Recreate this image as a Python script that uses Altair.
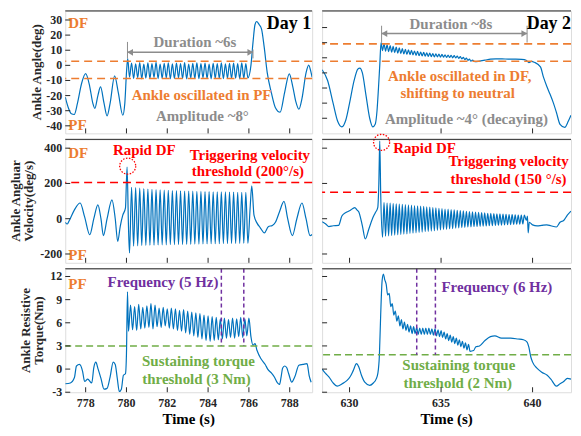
import altair as alt
import pandas as pd

FONT = "Liberation Serif"
BLUE = "#0072BD"
ORANGE = "#ED7D31"
RED = "#FF0000"
PURPLE = "#7030A0"
GREEN = "#70AD47"
GRAY = "#8C8C8C"
AXC = "#262626"

# ---------------- Day 1 : ankle angle ----------------
ang1_pre_t = [777.0, 777.15, 777.3, 777.44, 777.6, 777.8, 778.0, 778.2, 778.35, 778.45, 778.6, 778.73,
              778.9, 779.05, 779.2, 779.42, 779.6, 779.82, 779.92, 780.0, 780.06]
ang1_pre_v = [-21, -28, -32, -32.5, -25, -12, -5.5, -14, -25, -28.5, -20, -14.3,
              -25, -33.5, -25, -7, -18, -33, -25, -5, 4.5]
ang1_osc_t0, ang1_osc_dt = 780.15, 0.1
ang1_lo = [-7.8, -8.6, -8.2, -8.9, -8.4, -8.7, -8.1, -8.8, -8.5, -8.3, -8.9, -8.6, -8.2, -8.7, -8.9,
           -8.4, -8.6, -8.8, -8.3, -8.7, -8.9, -8.5, -8.6, -8.8, -8.4, -8.7, -8.5, -8.9, -8.6, -8.3]
ang1_hi = [1.5, 1.0, 1.8, 0.8, 1.6, 1.2, 1.9, 0.9, 1.4, 1.7, 1.0, 1.5, 1.2, 1.8, 0.9,
           1.3, 1.6, 1.1, 1.5, 0.8, 1.4, 1.2, 1.7, 1.0, 1.3, 1.5, 1.1, 1.6, 1.2]
ang1_post_t = [786.1, 786.2, 786.3, 786.38, 786.5, 786.62, 786.75, 786.9, 787.1, 787.3, 787.53, 787.75,
               787.98, 788.15, 788.3, 788.45, 788.6, 788.8, 788.93, 789.05, 789.1]
ang1_post_v = [0, 15, 27, 29, 27, 24, 12, -5, -18, -28, -31, -18,
               -5.6, -14, -24, -29, -22, -5, 0.2, -5, -8]

# ---------------- Day 1 : angular velocity ----------------
vel1_pre_t = [777.0, 777.1, 777.2, 777.45, 777.73, 777.95, 778.2, 778.4, 778.6, 778.75, 778.87, 779.05,
              779.29, 779.45, 779.57, 779.7, 779.82, 779.95, 780.03, 780.1, 780.15]
vel1_pre_v = [-20, -30, -10, 50, 89, 10, -91, 0, 79, 0, -96, 0,
              107, 0, -128, -40, 20, 60, 293, -50, -194]
vel1_osc_t0, vel1_osc_dt = 780.25, 0.1
vel1_hi = [178, 176, 173, 171, 168, 167, 165, 163, 162, 161, 160, 159, 158, 157, 157,
           156, 155, 155, 154, 154, 153, 153, 152, 152, 151, 151, 150, 150, 150]
vel1_lo = [-155, -154, -152, -151, -150, -150, -149, -148, -148, -147, -147, -146, -146, -145, -145,
           -144, -144, -143, -143, -142, -142, -142, -141, -141, -140, -140, -140, -139, -139]
vel1_post_t = [786.06, 786.14, 786.25, 786.4, 786.55, 786.76, 786.95, 787.15, 787.3, 787.5, 787.72, 787.9,
               788.13, 788.35, 788.6, 788.8, 789.0, 789.1]
vel1_post_v = [60, 187, 20, -25, -50, -80, -45, -38, -20, 40, 98, 0,
               -96, 0, 89, 0, -96, -90]

# ---------------- Day 1 : resistive torque ----------------
tq1_pre_t = [777.0, 777.25, 777.45, 777.55, 777.7, 777.85, 777.95, 778.1, 778.3, 778.4, 778.5, 778.6,
             778.75, 778.9, 779.05, 779.2, 779.35, 779.45, 779.55, 779.65, 779.75, 779.85, 779.95, 780.0, 780.05]
tq1_pre_v = [-1.9, -1.8, -1.1, 0.4, 0.6, -0.3, -1.6, -1.3, -1.8, 0.2, 0.9, 0.1,
             -1.2, -2.6, -2.5, -1.0, 0.9, 0.6, -1.2, -2.9, -2.6, -0.8, -0.6, 2.0, 10.0]
tq1_osc_t0, tq1_osc_dt = 780.1, 0.1
tq1_lo = [4.9, 5.1, 5.0, 5.2, 5.3, 5.4, 5.2, 5.5, 5.4, 5.6, 5.3, 5.2, 5.0, 4.9, 4.7,
          4.5, 4.3, 4.1, 3.9, 3.7, 3.6, 3.7, 3.8, 3.9, 4.0, 4.1, 4.0, 4.2, 4.1, 4.3]
tq1_hi = [8.3, 8.1, 8.4, 8.0, 8.2, 8.5, 8.3, 7.9, 8.0, 7.8, 7.9, 7.8, 7.6, 7.7, 7.5,
          7.4, 7.3, 7.2, 7.0, 6.9, 6.8, 6.7, 6.5, 6.6, 6.4, 6.6, 6.5, 6.7, 6.5, 6.6]
tq1_post_t = [786.1, 786.2, 786.3, 786.4, 786.6, 786.8, 786.92, 787.1, 787.24, 787.4, 787.5, 787.58,
              787.65, 787.75, 787.85, 787.95, 788.1, 788.25, 788.45, 788.65, 788.85, 788.95, 789.05]
tq1_post_v = [4.2, 3.1, 3.3, 2.4, 1.3, 0.6, 0.0, -0.5, -1.0, -1.8, -2.0, -1.0,
              0.1, 0.4, 0.2, -0.6, -1.7, -1.0, 0.5, 0.6, 0.7, -0.8, -1.7]

# ---------------- Day 2 : ankle angle ----------------
ang2_pre_t = [628.5, 628.8, 629.1, 629.35, 629.58, 629.8, 630.0, 630.25, 630.45, 630.56, 630.7, 630.9,
              631.1, 631.27, 631.4, 631.5, 631.58, 631.65, 631.72]
ang2_pre_v = [2.1, -5, -20, -32, -35.7, -31, -20, -5, 2.5, 3.2, 0, -15,
              -30, -35.7, -34, -25, -10, 5, 20.0]
ang2_osc_t0, ang2_osc_dt = 631.80, 1 / 12
ang2_lo = [14.8, 14.4, 14.0, 13.7, 13.4, 13.1, 12.8, 12.6, 12.3, 12.1, 11.9, 11.6, 11.4, 11.2, 11.1,
           10.9, 10.8, 10.6, 10.6, 10.4, 10.4, 10.2, 10.2, 10.0, 9.9, 9.6, 9.3, 8.8, 8.3, 7.7]
ang2_hi = [19.2, 18.6, 18.0, 17.5, 17.0, 16.5, 16.0, 15.6, 15.3, 14.9, 14.5, 14.2, 13.8, 13.6, 13.3,
           13.1, 12.8, 12.6, 12.4, 12.2, 12.0, 11.8, 11.6, 11.4, 11.1, 10.8, 10.3, 9.8, 9.1, 8.5]
ang2_post_t = [636.85, 637.1, 637.4, 637.7, 638.0, 638.5, 639.0, 639.4, 639.65, 639.8, 639.95, 640.1,
               640.43, 640.6, 640.78, 640.95, 641.14, 641.3, 641.5, 641.76, 641.95, 642.1]
ang2_post_v = [7.4, 7.8, 8.4, 9.1, 9.3, 9.2, 9.1, 8.9, 8.4, 6.8, 7.6, 7.0,
               4.0, -3, -9, -14, -20, -26, -34, -36, -32, -28]

# ---------------- Day 2 : angular velocity ----------------
vel2_pre_t = [628.5, 628.7, 628.87, 629.1, 629.4, 629.58, 629.8, 630.0, 630.29, 630.4, 630.5, 630.7,
              630.86, 631.05, 631.25, 631.4, 631.54, 631.6, 631.65, 631.7]
vel2_pre_v = [-17, -30, -45, -40, -38, 15, 35, 45, 63, 50, 40, -40,
              -115, -60, 0, 33, 63, 200, 440, 150]
vel2_osc_t0, vel2_osc_dt = 631.80, 1 / 12
vel2_lo = [-105, -99, -97, -95, -93, -91, -89, -87, -86, -84, -82, -80, -78, -76, -74, -72,
           -70, -68, -66, -64, -62, -60, -58, -56, -54, -52, -50, -49, -47, -46, -45, -44,
           -43, -42, -41, -40, -39, -38, -37, -36, -35, -34, -33, -32, -31, -31, -30]
vel2_hi = [92, 89, 88, 86, 85, 83, 82, 80, 78, 77, 75, 73, 71, 70, 67, 66,
           63, 62, 59, 58, 55, 54, 51, 50, 47, 46, 44, 42, 40, 39, 37, 36,
           34, 33, 31, 30, 29, 28, 27, 26, 25, 24, 23, 22, 21, 21, 20]
vel2_post_t = [639.66, 639.72, 639.76, 639.82, 640.0, 640.25, 640.5, 640.78, 641.0, 641.3, 641.5, 641.7,
               641.9, 642.1]
vel2_post_v = [-10, 15, -80, -20, -35, -41, -38, -35, -40, -47, -20, -10, 20, 43]

# ---------------- Day 2 : resistive torque ----------------
tq2_pre_t = [628.5, 628.7, 628.87, 629.1, 629.32, 629.6, 629.85, 630.03, 630.2, 630.38, 630.5, 630.65,
             630.83, 631.1, 631.3, 631.45, 631.55, 631.63, 631.7, 631.78, 631.85, 631.92]
tq2_pre_v = [0.0, -0.6, -1.0, -1.8, -2.2, -1.9, -1.5, -1.0, -0.2, 0.7, 0.3, -0.8,
             -1.7, -2.1, -1.8, -1.3, -0.5, 1.8, 7.0, 11.5, 12.3, 11.6]
tq2_osc_t0, tq2_osc_dt = 632.0, 1 / 12
tq2_osc = [11.0, 9.6, 9.8, 8.1, 8.5, 7.0, 7.5, 6.2, 6.9, 5.6, 6.4, 5.2, 6.1, 5.0, 5.8, 4.8, 5.6, 4.6,
           5.5, 4.6, 5.4, 4.5, 5.3, 4.5, 5.3, 4.5, 5.3, 4.5, 5.3, 4.5, 5.2, 4.4, 5.2, 4.3, 5.1, 4.2,
           5.0, 4.1, 4.8, 3.9, 4.6, 3.7, 4.4, 3.5, 4.2, 3.3, 4.0, 3.1, 3.8, 2.9, 3.6, 2.7, 3.4, 2.5,
           3.2, 2.3]
tq2_post_t = [636.78, 636.9, 637.1, 637.4, 637.7, 637.94, 638.3, 638.8, 639.2, 639.5, 639.7, 639.8,
              639.9, 640.0, 640.25, 640.5, 640.8, 641.0, 641.3, 641.5, 641.7, 641.9, 642.1]
tq2_post_v = [2.4, 2.9, 3.0, 3.7, 4.2, 4.3, 4.0, 4.0, 3.9, 3.8, 3.5, 2.8,
              1.6, 0.9, 0.1, -0.4, -0.8, -1.3, -2.2, -1.9, -1.6, -1.2, -1.3]

# ---------------- axes ----------------
x1_dom, x2_dom = [777.0, 789.1], [628.5, 642.1]
x1_ticks, x2_ticks = [778, 780, 782, 784, 786, 788], [630, 635, 640]
ang1_dom, ang2_dom = [-45, 36], [-40, 41]
ang1_ticks, ang2_ticks = [-40, -30, -20, -10, 0, 10, 20, 30], [-30, -20, -10, 0, 10, 20, 30]
vel_dom, vel_ticks = [-250, 450], [-200, 0, 200, 400]
tq_dom, tq_ticks = [-3, 13], [-3, 0, 3, 6, 9, 12]

ONE = pd.DataFrame({"a": [0]})


def interleave(a, b):
    out = []
    for i in range(max(len(a), len(b))):
        if i < len(a):
            out.append(a[i])
        if i < len(b):
            out.append(b[i])
    return out


def build(pre_t, pre_v, t0, dt, osc_v, post_t, post_v):
    osc_t = [t0 + i * dt for i in range(len(osc_v))]
    return pd.DataFrame({"t": pre_t + osc_t + post_t, "v": pre_v + osc_v + post_v})


def txt(t, v, s, color, size=15, align="center"):
    return alt.Chart(ONE).mark_text(text=s, color=color, font=FONT, fontWeight="bold", fontSize=size,
                                    align=align, baseline="middle").encode(
        x=alt.XDatum(t, axis=None), y=alt.YDatum(v, axis=None))


def ptxt(px, py, s, size=13, angle=0, color=AXC):
    kw = dict(text=s, color=color, font=FONT, fontWeight="bold", fontSize=size, align="center",
              baseline="middle")
    if angle:
        kw["angle"] = angle
    return alt.Chart(ONE).mark_text(**kw).encode(x=alt.value(px), y=alt.value(py))


def hline(v, color, dash, width=1.6):
    return alt.Chart(ONE).mark_rule(color=color, strokeDash=dash, strokeWidth=width).encode(
        y=alt.YDatum(v, axis=None))


def vline(t, v1, v2, color, dash=None, width=1.0):
    kw = dict(color=color, strokeWidth=width)
    if dash:
        kw["strokeDash"] = dash
    return alt.Chart(ONE).mark_rule(**kw).encode(
        x=alt.XDatum(t, axis=None), y=alt.YDatum(v1, axis=None), y2=alt.Y2Datum(v2))


def arrow(t1, t2, v, dx):
    line = alt.Chart(ONE).mark_rule(color=GRAY, strokeWidth=1.5).encode(
        x=alt.XDatum(t1, axis=None), x2=alt.X2Datum(t2), y=alt.YDatum(v, axis=None))
    left = alt.Chart(ONE).mark_point(shape="triangle-left", filled=True, size=45, color=GRAY, opacity=1).encode(
        x=alt.XDatum(t1 + dx, axis=None), y=alt.YDatum(v, axis=None))
    right = alt.Chart(ONE).mark_point(shape="triangle-right", filled=True, size=45, color=GRAY, opacity=1).encode(
        x=alt.XDatum(t2 - dx, axis=None), y=alt.YDatum(v, axis=None))
    return [line, left, right]


def circle(t, v):
    return alt.Chart(ONE).mark_point(shape="circle", size=260, filled=False, color=RED, strokeWidth=1.3,
                                     strokeDash=[1.5, 1.5], opacity=1).encode(
        x=alt.XDatum(t, axis=None), y=alt.YDatum(v, axis=None))


def panel(df, W, H, xdom, ydom, xticks, yticks, left, bottom, ytitle, extras):
    x = alt.X("t:Q", scale=alt.Scale(domain=xdom, nice=False, zero=False),
              axis=alt.Axis(labels=False, ticks=False, grid=False, domainColor=AXC, values=xticks), title=None)
    y = alt.Y("v:Q", scale=alt.Scale(domain=ydom, nice=False, zero=False),
              axis=alt.Axis(labels=False, ticks=False, grid=False, domainColor=AXC, values=yticks), title=None)
    line = alt.Chart(df).mark_line(color=BLUE, strokeWidth=1.2, interpolate="monotone", clip=True).encode(x=x, y=y)
    ytk = alt.Chart(pd.DataFrame({"v": yticks})).mark_rule(color=AXC, strokeWidth=1).encode(
        y=alt.Y("v:Q", axis=None), x=alt.value(0), x2=alt.value(5))
    xtk = alt.Chart(pd.DataFrame({"t": xticks})).mark_rule(color=AXC, strokeWidth=1).encode(
        x=alt.X("t:Q", axis=None), y=alt.value(H), y2=alt.value(H - 5))
    top = alt.Chart(ONE).mark_rule(color=AXC, strokeWidth=1).encode(
        x=alt.value(0), x2=alt.value(W), y=alt.value(0))
    layers = [line, *extras, ytk, xtk, top]
    if left:
        ylab = alt.Chart(pd.DataFrame({"v": yticks, "lab": [str(v) for v in yticks]})).mark_text(
            font=FONT, fontWeight="bold", fontSize=12, align="right", baseline="middle", color=AXC).encode(
            y=alt.Y("v:Q", axis=None), x=alt.value(-3), text="lab:N")
        layers.append(ylab)
        for (px, s) in ytitle:
            layers.append(ptxt(px, H / 2, s, 13, 270))
    if bottom:
        xlab = alt.Chart(pd.DataFrame({"t": xticks, "lab": [str(v) for v in xticks]})).mark_text(
            font=FONT, fontWeight="bold", fontSize=12, align="center", baseline="middle", color=AXC).encode(
            x=alt.X("t:Q", axis=None), y=alt.value(H + 11), text="lab:N")
        layers.append(xlab)
        layers.append(ptxt(W / 2, H + 27, "Time (s)", 15, 0, "#000000"))
    return alt.layer(*layers).properties(width=W, height=H)


WL, WR = 248, 250
H1, H2, H3 = 123, 124, 124

ang1 = build(ang1_pre_t, ang1_pre_v, ang1_osc_t0, ang1_osc_dt, interleave(ang1_lo, ang1_hi), ang1_post_t, ang1_post_v)
vel1 = build(vel1_pre_t, vel1_pre_v, vel1_osc_t0, vel1_osc_dt, interleave(vel1_hi, vel1_lo), vel1_post_t, vel1_post_v)
tq1 = build(tq1_pre_t, tq1_pre_v, tq1_osc_t0, tq1_osc_dt, interleave(tq1_lo, tq1_hi), tq1_post_t, tq1_post_v)
ang2 = build(ang2_pre_t, ang2_pre_v, ang2_osc_t0, ang2_osc_dt, interleave(ang2_lo, ang2_hi), ang2_post_t, ang2_post_v)
vel2 = build(vel2_pre_t, vel2_pre_v, vel2_osc_t0, vel2_osc_dt, interleave(vel2_lo, vel2_hi), vel2_post_t, vel2_post_v)
tq2 = build(tq2_pre_t, tq2_pre_v, tq2_osc_t0, tq2_osc_dt, tq2_osc, tq2_post_t, tq2_post_v)

TL = panel(ang1, WL, H1, x1_dom, ang1_dom, x1_ticks, ang1_ticks, True, False, [(-28, "Ankle Angle(deg)")], [
    hline(2.7, ORANGE, [8, 5]), hline(-8.7, ORANGE, [8, 5]),
    vline(780.05, 15.5, 4.5, GRAY), vline(786.2, 10.5, 4.6, GRAY),
    *arrow(780.05, 786.2, 8.6, 0.13),
    txt(783.35, 15.3, "Duration ~6s", GRAY, 15),
    txt(777.15, 28.2, "DF", ORANGE, 15, "left"), txt(777.15, -39.8, "PF", ORANGE, 15, "left"),
    txt(789.05, 27.5, "Day 1", "#000000", 18, "right"),
    txt(783.68, -19.5, "Ankle oscillated in PF", ORANGE, 15),
    txt(783.72, -33.2, "Amplitude ~8°", GRAY, 15),
])
TR = panel(ang2, WR, H1, x2_dom, ang2_dom, x2_ticks, ang2_ticks, False, False, None, [
    hline(19.2, ORANGE, [8, 5]), hline(7.7, ORANGE, [8, 5]),
    vline(631.75, 31.2, 20.1, GRAY), vline(639.7, 31.2, 20.1, GRAY),
    *arrow(631.75, 639.7, 26.0, 0.15),
    txt(635.54, 32.5, "Duration ~8s", GRAY, 15),
    txt(642.1, 32.5, "Day 2", "#000000", 18, "right"),
    txt(636.02, -2.1, "Ankle oscillated in DF,", ORANGE, 15),
    txt(635.91, -13.2, "shifting to neutral", ORANGE, 15),
    txt(636.39, -30.2, "Amplitude ~4° (decaying)", GRAY, 15),
])
ML = panel(vel1, WL, H2, x1_dom, vel_dom, x1_ticks, vel_ticks, True, False,
           [(-49, "Ankle Angluar"), (-36, "Velocity(deg/s)")], [
    hline(205, RED, [8, 5]),
    circle(780.06, 298),
    txt(777.15, 371.6, "DF", ORANGE, 15, "left"), txt(777.15, -205, "PF", ORANGE, 15, "left"),
    txt(780.87, 388, "Rapid DF", RED, 15),
    txt(786.05, 360, "Triggering velocity", RED, 15),
    txt(785.95, 271, "threshold (200°/s)", RED, 15),
])
MR = panel(vel2, WR, H2, x2_dom, vel_dom, x2_ticks, vel_ticks, False, False, None, [
    hline(150, RED, [8, 5]),
    circle(631.75, 433),
    txt(634.1, 399.6, "Rapid DF", RED, 15),
    txt(638.69, 326.8, "Triggering velocity", RED, 15),
    txt(638.69, 226, "threshold (150 °/s)", RED, 15),
])
BL = panel(tq1, WL, H3, x1_dom, tq_dom, x1_ticks, tq_ticks, True, True,
           [(-39, "Ankle Resistive"), (-26, "Torque(Nm)")], [
    hline(3.0, GREEN, [7, 4]),
    vline(784.65, 13, 3.0, PURPLE, [4, 3], 1.5), vline(785.75, 13, 3.0, PURPLE, [4, 3], 1.5),
    txt(777.15, 11.08, "PF", ORANGE, 15, "left"),
    txt(781.79, 11.34, "Frequency (5 Hz)", PURPLE, 15),
    txt(783.53, 1.0, "Sustaining torque", GREEN, 15),
    txt(783.43, -1.25, "threshold (3 Nm)", GREEN, 15),
])
BR = panel(tq2, WR, H3, x2_dom, tq_dom, x2_ticks, tq_ticks, False, True, None, [
    hline(1.85, GREEN, [7, 4]),
    vline(633.67, 13, 1.85, PURPLE, [4, 3], 1.5), vline(634.69, 13, 1.85, PURPLE, [4, 3], 1.5),
    txt(638.05, 10.7, "Frequency (6 Hz)", PURPLE, 15),
    txt(635.97, 0.5, "Sustaining torque", GREEN, 15),
    txt(635.91, -1.75, "threshold (2 Nm)", GREEN, 15),
])

chart = alt.concat(TL, TR, ML, MR, BL, BR, columns=2, spacing={"row": 6, "column": 10},
                   bounds="flush", align="each").properties(
    padding={"left": 1.5, "top": 1, "right": 0, "bottom": 0}
).configure_view(strokeWidth=0).configure(background="white")

chart.save("out.html", embed_options={"renderer": "svg", "actions": False})
